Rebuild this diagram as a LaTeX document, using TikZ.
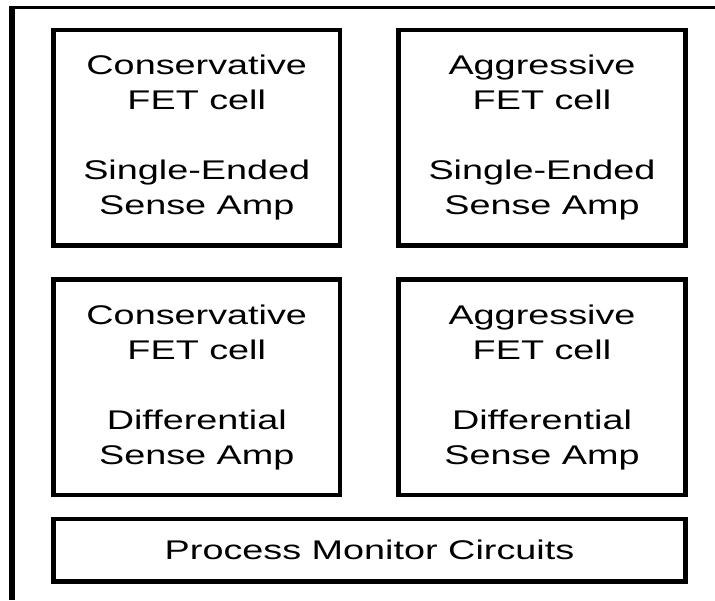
\documentclass[tikz,border=0pt]{standalone}
\usepackage{fontspec}
\usepackage{tikz}
\newfontfamily\cellfont[FakeStretch=1.4]{Liberation Sans}

\begin{document}
\begin{tikzpicture}[x=0.025cm, y=-0.025cm]
        \tikzset{CellStyle/.style={draw, line width=3.2pt, align=center,
            minimum width=7.1625cm, minimum height=5.3875cm, inner sep=0pt,
            font=\cellfont\fontsize{19.2pt}{24.9pt}\selectfont}}
        \tikzset{MonitorStyle/.style={CellStyle, minimum width=15.7875cm,
            minimum height=1.5625cm}}

        \useasboundingbox (0,0) rectangle (715,600);

        % outer frame, only its top and left side are in view
        \coordinate (corner) at (12,7.5);
        \draw[line width=1.8pt] (9,7.5) -- (715,7.5);
        \draw[line width=4.2pt] (corner) -- (12,600);

        \node[CellStyle] (cons-se) at (196.75,137.75)
          {Conservative\\FET cell\\[24.9pt]Single-Ended\\Sense Amp};
        \node[CellStyle] (aggr-se) at (542,137.75)
          {Aggressive\\FET cell\\[24.9pt]Single-Ended\\Sense Amp};
        \node[CellStyle] (cons-diff) at (196.75,387.25)
          {Conservative\\FET cell\\[24.9pt]Differential\\Sense Amp};
        \node[CellStyle] (aggr-diff) at (542,387.25)
          {Aggressive\\FET cell\\[24.9pt]Differential\\Sense Amp};

        \node[MonitorStyle] (monitor) at (369.5,550) {Process Monitor Circuits};
\end{tikzpicture}
\end{document}
